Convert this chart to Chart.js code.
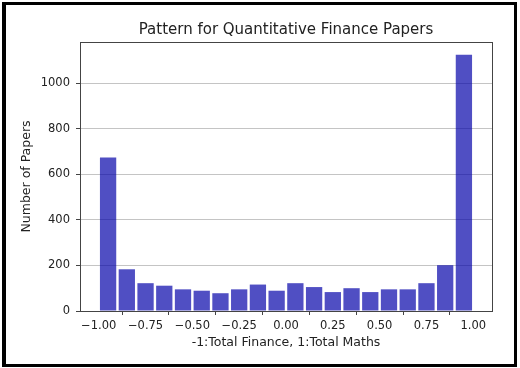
<!DOCTYPE html>
<html>
<head>
<meta charset="utf-8">
<script src="https://cdn.jsdelivr.net/npm/chart.js@4/dist/chart.umd.min.js"></script>
<style>
    body { margin: 0; background: #fff; }
    #wrap { position: relative; width: 520px; height: 368px; background: #fff; }
    #frame {
        position: absolute; left: 2px; top: 2px; width: 515px; height: 365px;
        box-sizing: border-box; border: 3px solid #000; border-left-width: 4px;
    }
    #papersChart { position: absolute; left: 0; top: 0; }
</style>
</head>
<body>
<div id="wrap">
    <div id="frame"></div>
    <canvas id="papersChart" width="520" height="368"></canvas>
</div>
<script>
// histogram bins (centres of 0.1 wide bins from -1 to 1)
const binCenters = [-0.95, -0.85, -0.75, -0.65, -0.55, -0.45, -0.35, -0.25, -0.15, -0.05,
                    0.05, 0.15, 0.25, 0.35, 0.45, 0.55, 0.65, 0.75, 0.85, 0.95];
const paperCounts = [673, 183, 122, 111, 95, 89, 78, 95, 116, 89,
                     122, 105, 83, 100, 83, 95, 95, 122, 201, 1124];
const xTicks = [-1, -0.75, -0.5, -0.25, 0, 0.25, 0.5, 0.75, 1];
const yTicks = [0, 200, 400, 600, 800, 1000];

const chartTitle = 'Pattern for Quantitative Finance Papers';
const textColor = '#222';
const spineColor = '#444';
const fontFamily = '"DejaVu Sans", sans-serif';

function fmtTick(v) {
    const s = Math.abs(v).toFixed(2);
    return v < 0 ? '\u2212' + s : s;
}

// box around the plot area like matplotlib spines, title centred over the axes
const spinesPlugin = {
    id: 'spines',
    afterDraw(chart) {
        const { ctx, chartArea: a } = chart;
        ctx.save();
        ctx.strokeStyle = spineColor;
        ctx.lineWidth = 1;
        ctx.strokeRect(Math.round(a.left) + 0.5, Math.round(a.top) + 0.5,
            Math.round(a.right - a.left), Math.round(a.bottom - a.top));
        ctx.fillStyle = textColor;
        ctx.font = '15px ' + fontFamily;
        ctx.textAlign = 'center';
        ctx.textBaseline = 'middle';
        ctx.fillText(chartTitle, (a.left + a.right) / 2, 30);
        ctx.restore();
    }
};

new Chart(document.getElementById('papersChart'), {
    type: 'bar',
    data: {
        datasets: [{
            data: binCenters.map((x, i) => ({ x: x, y: paperCounts[i] })),
            backgroundColor: 'rgba(5, 4, 170, 0.7)',
            borderWidth: 0,
            barPercentage: 0.87,
            categoryPercentage: 1.0
        }]
    },
    options: {
        responsive: false,
        animation: false,
        layout: { padding: { left: 0, right: 28, top: 42, bottom: 0 } },
        plugins: {
            legend: { display: false },
            tooltip: { enabled: false },
            title: { display: false }
        },
        scales: {
            x: {
                type: 'linear',
                min: -1.1,
                max: 1.1,
                offset: false,
                afterBuildTicks: (scale) => { scale.ticks = xTicks.map(v => ({ value: v })); },
                afterFit: (scale) => { scale.height = 57; },
                ticks: {
                    color: textColor,
                    font: { family: fontFamily, size: 11.5 },
                    padding: 4,
                    maxRotation: 0,
                    autoSkip: false,
                    callback: (v) => fmtTick(v)
                },
                grid: { drawOnChartArea: false, tickColor: spineColor, tickLength: 4 },
                border: { color: spineColor, width: 1 },
                title: {
                    display: true,
                    text: '-1:Total Finance, 1:Total Maths',
                    color: textColor,
                    font: { family: fontFamily, size: 12.5 },
                    padding: { top: 0, bottom: 17.8 }
                }
            },
            y: {
                min: 0,
                max: 1180,
                afterBuildTicks: (scale) => { scale.ticks = yTicks.map(v => ({ value: v })); },
                afterFit: (scale) => { scale.width = 80; },
                ticks: {
                    color: textColor,
                    font: { family: fontFamily, size: 11.5 },
                    padding: 6,
                    callback: (v) => String(v)
                },
                grid: { color: 'rgba(176, 176, 176, 0.75)', tickColor: spineColor, tickLength: 4 },
                border: { color: spineColor, width: 1 },
                title: {
                    display: true,
                    text: 'Number of Papers',
                    color: textColor,
                    font: { family: fontFamily, size: 12.5 },
                    padding: { top: 19.5, bottom: 0 }
                }
            }
        }
    },
    plugins: [spinesPlugin]
});
</script>
</body>
</html>
